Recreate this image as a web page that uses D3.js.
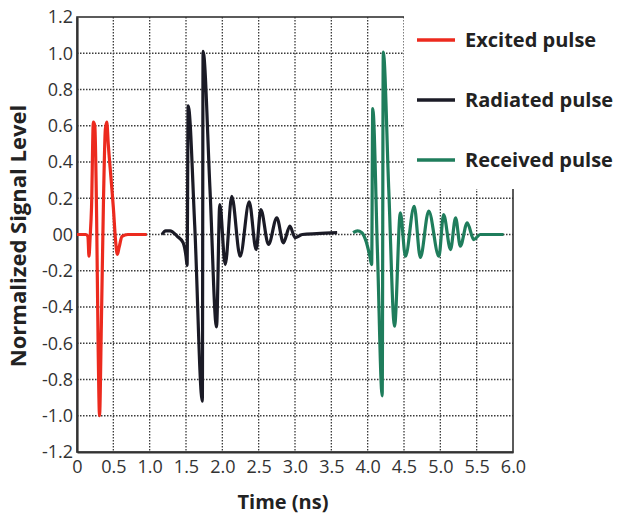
<!DOCTYPE html>
<html lang="en">
<head>
  <meta charset="UTF-8">
  <title>Pulse signals</title>
  <script src="https://d3js.org/d3.v7.min.js"></script>
  <style>
    body { margin: 0; background: #fff; }
    text { font-family: "Open Sans", "DejaVu Sans", sans-serif; }
  </style>
</head>
<body>
  <svg id="chart" width="619" height="516"></svg>

  <script>
    // values (time in ns, normalized level)
    const excitedTime = [0, 0.12, 0.15, 0.165, 0.18, 0.2, 0.225, 0.245, 0.27, 0.292, 0.31, 0.335, 0.365, 0.39, 0.41, 0.43, 0.47, 0.5, 0.53, 0.555, 0.58, 0.62, 0.7, 0.96];
    const excitedLevel = [0, 0, -0.01, -0.12, -0.02, 0.15, 0.62, 0.6, 0.1, -0.65, -1.0, -0.5, 0.2, 0.58, 0.62, 0.5, 0.3, 0.15, -0.03, -0.11, -0.07, -0.01, 0, 0];

    const radiatedTime = [1.17, 1.22, 1.28, 1.38, 1.46, 1.5, 1.515, 1.53, 1.62, 1.725, 1.735, 1.83, 1.92, 1.965, 2.04, 2.13, 2.245, 2.37, 2.465, 2.53, 2.635, 2.75, 2.84, 2.93, 3.0, 3.1, 3.3, 3.58];
    const radiatedLevel = [0, 0.02, 0.02, -0.01, -0.045, -0.12, -0.17, 0.71, 0.05, -0.92, 1.01, 0.25, -0.51, 0.165, -0.166, 0.21, -0.12, 0.18, -0.083, 0.138, -0.055, 0.092, -0.046, 0.046, -0.017, 0.0, 0.005, 0.01];

    const receivedTime = [3.8, 3.86, 3.92, 3.98, 4.03, 4.055, 4.07, 4.135, 4.2, 4.215, 4.29, 4.37, 4.45, 4.52, 4.64, 4.725, 4.84, 4.98, 5.045, 5.14, 5.21, 5.275, 5.37, 5.46, 5.55, 5.87];
    const receivedLevel = [0.01, 0.02, 0.01, -0.04, -0.12, -0.166, 0.695, -0.1, -0.89, 1.006, 0.25, -0.506, 0.12, -0.12, 0.156, -0.127, 0.129, -0.12, 0.11, -0.083, 0.092, -0.064, 0.064, -0.028, 0.0, 0.0];

    const xTicks = [0, 0.5, 1.0, 1.5, 2.0, 2.5, 3.0, 3.5, 4.0, 4.5, 5.0, 5.5, 6.0];
    const xTickLabels = ["0", "0.5", "1.0", "1.5", "2.0", "2.5", "3.0", "3.5", "4.0", "4.5", "5.0", "5.5", "6.0"];
    const yTicks = [1.2, 1.0, 0.8, 0.6, 0.4, 0.2, 0, -0.2, -0.4, -0.6, -0.8, -1.0, -1.2];
    const yTickLabels = ["1.2", "1.0", "0.8", "0.6", "0.4", "0.2", "00", "-0.2", "-0.4", "-0.6", "-0.8", "-1.0", "-1.2"];

    const series = [
      { name: "Excited pulse", time: excitedTime, level: excitedLevel, color: "#ec2a1e" },
      { name: "Radiated pulse", time: radiatedTime, level: radiatedLevel, color: "#1b1b26" },
      { name: "Received pulse", time: receivedTime, level: receivedLevel, color: "#1f7d5c" }
    ];

    const svg = d3.select("#chart");
    const plotLeft = 77, plotRight = 513, plotTop = 17, plotBottom = 452;

    const x = d3.scaleLinear().domain([0, 6]).range([plotLeft, plotRight]);
    const y = d3.scaleLinear().domain([-1.2, 1.2]).range([plotBottom, plotTop]);

    // dotted grid
    svg.append("g")
      .selectAll("line")
      .data(xTicks.slice(1, -1))
      .join("line")
      .attr("x1", d => x(d)).attr("x2", d => x(d))
      .attr("y1", plotTop).attr("y2", plotBottom)
      .attr("stroke", "#3a3a3a")
      .attr("stroke-width", 1.3)
      .attr("stroke-dasharray", "1.5,1.5");

    svg.append("g")
      .selectAll("line")
      .data(yTicks.slice(1, -1))
      .join("line")
      .attr("x1", plotLeft).attr("x2", plotRight)
      .attr("y1", d => y(d)).attr("y2", d => y(d))
      .attr("stroke", "#3a3a3a")
      .attr("stroke-width", 1.3)
      .attr("stroke-dasharray", "1.5,1.5");

    // frame
    svg.append("rect")
      .attr("x", plotLeft).attr("y", plotTop)
      .attr("width", plotRight - plotLeft).attr("height", plotBottom - plotTop)
      .attr("fill", "none")
      .attr("stroke", "#333")
      .attr("stroke-width", 1.6);

    // axes (labels only)
    const xAxis = d3.axisBottom(x)
      .tickValues(xTicks)
      .tickFormat((d, i) => xTickLabels[i])
      .tickSize(0).tickPadding(8);
    svg.append("g")
      .attr("transform", `translate(0,${plotBottom})`)
      .call(xAxis)
      .call(g => g.select(".domain").attr("stroke", "#333").attr("stroke-width", 2.2))
      .call(g => g.selectAll("text").attr("font-size", 18).attr("fill", "#333"));

    const yAxis = d3.axisLeft(y)
      .tickValues(yTicks)
      .tickFormat((d, i) => yTickLabels[i])
      .tickSize(0).tickPadding(4);
    svg.append("g")
      .attr("transform", `translate(${plotLeft},0)`)
      .call(yAxis)
      .call(g => g.select(".domain").attr("stroke", "#333").attr("stroke-width", 2.2))
      .call(g => g.selectAll("text").attr("font-size", 18).attr("fill", "#333"));

    // pulses
    const line = d3.line()
      .x(d => x(d[0]))
      .y(d => y(d[1]))
      .curve(d3.curveMonotoneX);

    svg.append("g")
      .selectAll("path")
      .data(series)
      .join("path")
      .attr("d", s => line(d3.zip(s.time, s.level)))
      .attr("fill", "none")
      .attr("stroke", s => s.color)
      .attr("stroke-width", 3.2)
      .attr("stroke-linejoin", "round");

    // legend sits on a white patch over the top right corner
    svg.append("rect")
      .attr("x", 404).attr("y", 0)
      .attr("width", 619 - 404).attr("height", 189)
      .attr("fill", "#fff");

    const legend = svg.append("g")
      .selectAll("g")
      .data(series)
      .join("g")
      .attr("transform", (d, i) => `translate(417,${40 + i * 60})`);

    legend.append("line")
      .attr("x1", 0).attr("x2", 38)
      .attr("stroke", d => d.color)
      .attr("stroke-width", 3.5);

    legend.append("text")
      .attr("x", 48)
      .attr("dy", "0.35em")
      .attr("font-size", 20)
      .attr("font-weight", "bold")
      .attr("fill", "#222")
      .text(d => d.name);

    // axis titles
    svg.append("text")
      .attr("x", 283).attr("y", 509)
      .attr("text-anchor", "middle")
      .attr("font-size", 20)
      .attr("font-weight", "bold")
      .attr("fill", "#222")
      .text("Time (ns)");

    svg.append("text")
      .attr("transform", "translate(26,236) rotate(-90)")
      .attr("text-anchor", "middle")
      .attr("font-size", 22)
      .attr("font-weight", "bold")
      .attr("fill", "#222")
      .text("Normalized Signal Level");
  </script>
</body>
</html>
